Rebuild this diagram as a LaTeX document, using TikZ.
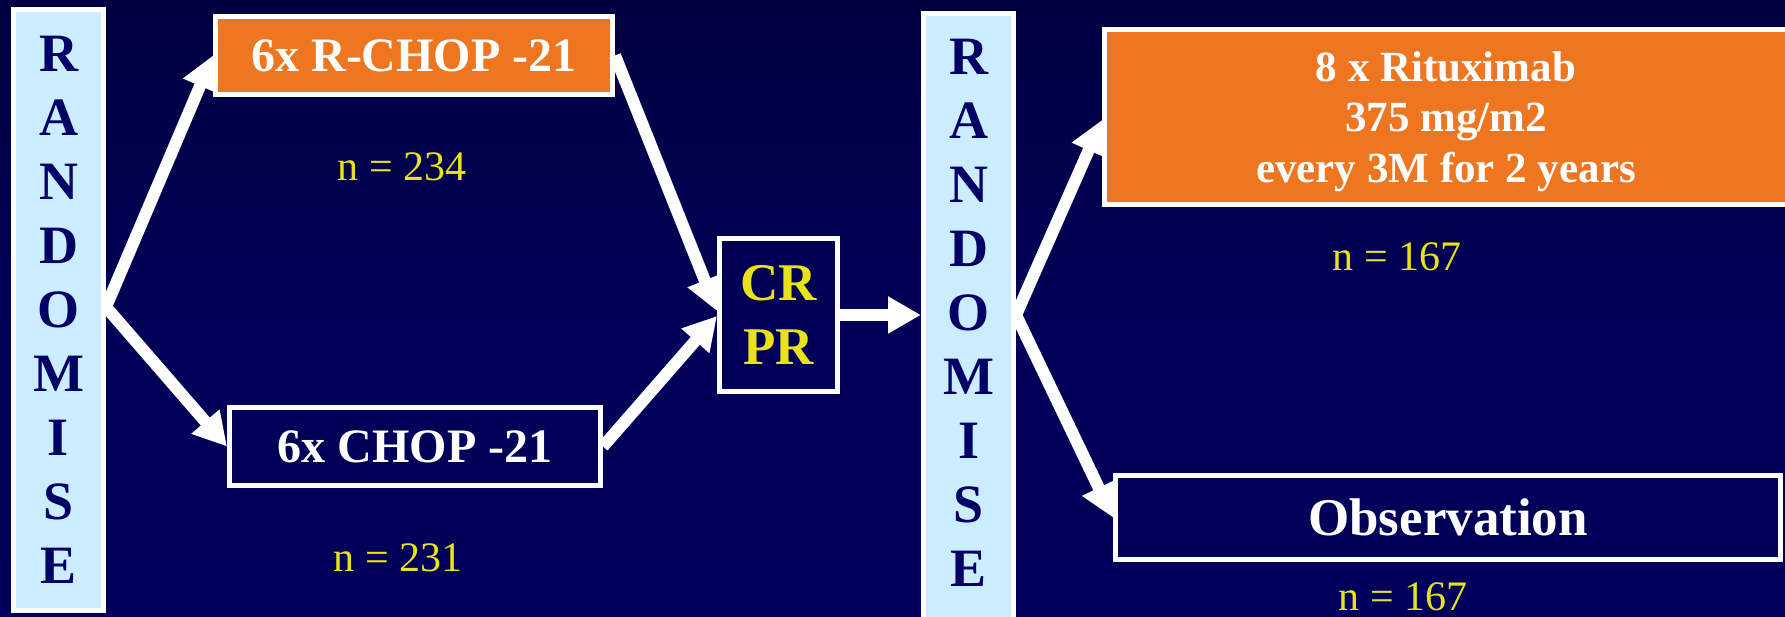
\documentclass[tikz,border=0pt]{standalone}
\usepackage{fontspec}
\setmainfont{Liberation Serif}
\usepackage{xcolor}
\usepackage{tikz}
\usetikzlibrary{arrows.meta}

\definecolor{bgtop}{RGB}{0,0,64}
\definecolor{bgbot}{RGB}{0,0,90}
\definecolor{randblue}{RGB}{204,236,255}
\definecolor{randnavy}{RGB}{0,0,102}
\definecolor{armorange}{RGB}{239,118,33}
\definecolor{labyellow}{RGB}{232,226,22}

\begin{document}
\begin{tikzpicture}[
    x=1pt, y=-1pt,
    randbox/.style={draw=white, line width=5pt, fill=randblue, text=randnavy,
                    font=\bfseries\fontsize{54}{64}\selectfont, align=center,
                    inner sep=0pt, minimum width=90pt},
    armbox/.style={draw=white, line width=5pt, text=white, align=center,
                   font=\bfseries\fontsize{48}{56}\selectfont, inner sep=0pt},
    nlab/.style={text=labyellow, font=\fontsize{42}{50}\selectfont, inner sep=0pt},
    arr/.style={-{Triangle[length=33pt, width=35pt]}, line width=12pt, draw=white}
]

% Background
\shade[top color=bgtop, bottom color=bgbot, middle color=bgbot!90!bgtop]
    (0,0) rectangle (1785,617);
\useasboundingbox (0,0) rectangle (1785,617);
\clip (0,0) rectangle (1785,617);

% First randomisation and induction arms
\node[randbox, minimum height=601pt] (rand1) at (58.5, 310)
    {R\\A\\N\\D\\O\\M\\I\\S\\E};
\node[armbox, fill=armorange, minimum width=397pt, minimum height=78pt] (rchop)
    at (414, 55.5) {6x R-CHOP -21};
\node[armbox, minimum width=371pt, minimum height=78pt] (chop)
    at (415, 446.5) {6x CHOP -21};
\node[nlab] (n234) at (402, 167) {n = 234};
\node[nlab] (n231) at (398, 558) {n = 231};

% Responders
\node[armbox, text=labyellow, font=\bfseries\fontsize{53}{64}\selectfont,
      minimum width=118pt, minimum height=153pt] (crpr) at (778.5, 315) {CR\\PR};

% Second randomisation and maintenance arms
\node[randbox, minimum height=614pt, text depth=15pt] (rand2) at (968.5, 320.5)
    {R\\A\\N\\D\\O\\M\\I\\S\\E};
\node[armbox, fill=armorange, font=\bfseries\fontsize{43}{50.5}\selectfont,
      text depth=-3pt,
      minimum width=683pt, minimum height=175pt] (ritux) at (1446, 117)
    {8 x Rituximab\\375 mg/m2\\every 3M for 2 years};
\node[armbox, font=\bfseries\fontsize{53}{60}\selectfont,
      minimum width=665pt, minimum height=84pt] (obs) at (1448, 517.5) {Observation};
\node[nlab] (n167a) at (1397, 257) {n = 167};
\node[nlab] (n167b) at (1403, 597) {n = 167};

% Arrows
\draw[arr] ([yshift=3pt]rand1.east) -- (rchop.west);
\draw[arr] ([yshift=3pt]rand1.east) -- (chop.west);
\draw[arr] (rchop.east) -- ([yshift=4pt]crpr.west);
\draw[arr] (chop.east) -- ([yshift=-1pt]crpr.west);
\draw[arr] (crpr.east) -- (crpr.east -| rand2.west);
\draw[arr] (crpr.east -| rand2.east) -- ([yshift=-3pt]ritux.west);
\draw[arr] (crpr.east -| rand2.east) -- (obs.west);

\end{tikzpicture}
\end{document}
